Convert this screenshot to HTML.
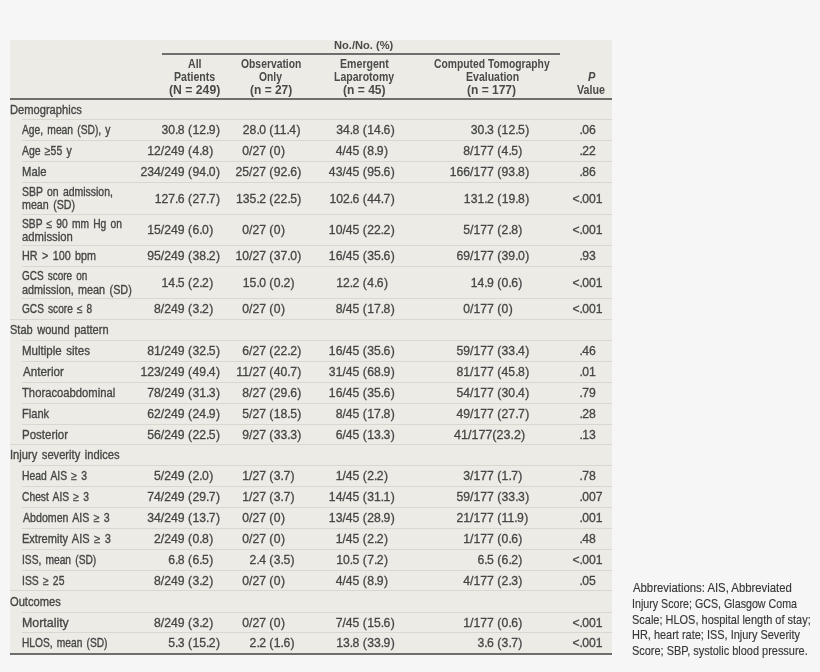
<!DOCTYPE html>
<html><head><meta charset="utf-8"><style>
html,body{margin:0;padding:0}
body{width:820px;height:672px;overflow:hidden;background:#f6f6f6;position:relative}
.tb{position:absolute;left:10px;top:40px;width:601.6px;height:615px;background:#ecebe5}
.clip{filter:blur(0.3px);position:absolute;left:0;top:40px;width:820px;height:632px;overflow:hidden}
.clip .in{position:absolute;left:0;top:-40px;width:820px;height:672px}
.t{position:absolute;white-space:nowrap;line-height:1;transform-origin:0 0;color:#464646}
.b{font:12.2px "Liberation Sans", sans-serif;line-height:1;-webkit-text-stroke:0.3px #464646}
.h{font:bold 12.5px "Liberation Sans", sans-serif;line-height:1;color:#4a4a4a}
.i{font-style:italic}
.s{font:bold 11.4px "Liberation Sans", sans-serif;line-height:1;color:#4a4a4a}
.a{font:12.2px "Liberation Sans",sans-serif;line-height:1;color:#383838;-webkit-text-stroke:0.15px #383838}
.rl{position:absolute;height:1px;background:#d9d7d0}
</style></head><body>
<div class="tb"></div>
<div class="clip"><div class="in">
<div class="rl" style="left:22.4px;top:118.90px;width:589.2px"></div>
<div class="rl" style="left:22.4px;top:140.00px;width:589.2px"></div>
<div class="rl" style="left:22.4px;top:161.00px;width:589.2px"></div>
<div class="rl" style="left:22.4px;top:181.80px;width:589.2px"></div>
<div class="rl" style="left:22.4px;top:213.60px;width:589.2px"></div>
<div class="rl" style="left:22.4px;top:245.30px;width:589.2px"></div>
<div class="rl" style="left:22.4px;top:266.40px;width:589.2px"></div>
<div class="rl" style="left:22.4px;top:298.30px;width:589.2px"></div>
<div class="rl" style="left:10px;top:319.10px;width:601.6px"></div>
<div class="rl" style="left:22.4px;top:340.00px;width:589.2px"></div>
<div class="rl" style="left:22.4px;top:360.90px;width:589.2px"></div>
<div class="rl" style="left:22.4px;top:381.70px;width:589.2px"></div>
<div class="rl" style="left:22.4px;top:402.70px;width:589.2px"></div>
<div class="rl" style="left:22.4px;top:423.60px;width:589.2px"></div>
<div class="rl" style="left:10px;top:444.30px;width:601.6px"></div>
<div class="rl" style="left:22.4px;top:465.00px;width:589.2px"></div>
<div class="rl" style="left:22.4px;top:485.90px;width:589.2px"></div>
<div class="rl" style="left:22.4px;top:506.80px;width:589.2px"></div>
<div class="rl" style="left:22.4px;top:527.70px;width:589.2px"></div>
<div class="rl" style="left:22.4px;top:548.70px;width:589.2px"></div>
<div class="rl" style="left:22.4px;top:569.70px;width:589.2px"></div>
<div class="rl" style="left:10px;top:590.40px;width:601.6px"></div>
<div class="rl" style="left:22.4px;top:611.50px;width:589.2px"></div>
<div class="rl" style="left:22.4px;top:632.10px;width:589.2px"></div>
<div style="position:absolute;left:162.3px;top:53.0px;width:398.09999999999997px;height:2.0px;background:#6e6e6e"></div>
<div style="position:absolute;left:10px;top:97.6px;width:601.6px;height:2.2px;background:#6e6e6e"></div>
<div style="position:absolute;left:10px;top:653.3px;width:601.6px;height:2.0px;background:#6e6e6e"></div>
<div class="t h s" style="left:334.07px;top:39.80px;transform:scaleX(0.9748);">No./No. (%)</div>
<div class="t h" style="left:187.69px;top:57.90px;transform:scaleX(0.8475);">All</div>
<div class="t h" style="left:173.57px;top:70.70px;transform:scaleX(0.8463);">Patients</div>
<div class="t h" style="left:168.81px;top:83.50px;transform:scaleX(0.9776);">(N = 249)</div>
<div class="t h" style="left:240.59px;top:57.90px;transform:scaleX(0.8279);">Observation</div>
<div class="t h" style="left:258.89px;top:70.70px;transform:scaleX(0.8257);">Only</div>
<div class="t h" style="left:249.62px;top:83.50px;transform:scaleX(0.9581);">(n = 27)</div>
<div class="t h" style="left:339.86px;top:57.90px;transform:scaleX(0.8476);">Emergent</div>
<div class="t h" style="left:333.97px;top:70.70px;transform:scaleX(0.8410);">Laparotomy</div>
<div class="t h" style="left:343.32px;top:83.50px;transform:scaleX(0.9651);">(n = 45)</div>
<div class="t h" style="left:434.19px;top:57.90px;transform:scaleX(0.8258);">Computed Tomography</div>
<div class="t h" style="left:465.67px;top:70.70px;transform:scaleX(0.8421);">Evaluation</div>
<div class="t h" style="left:467.12px;top:83.50px;transform:scaleX(0.9600);">(n = 177)</div>
<div class="t h" style="left:577.09px;top:83.50px;transform:scaleX(0.8531);">Value</div>
<div class="t h i" style="left:587.58px;top:70.70px;transform:scaleX(0.8848);">P</div>
<div class="t a" style="left:632.60px;top:582.30px;transform:scaleX(0.9306);">Abbreviations: AIS, Abbreviated</div>
<div class="t a" style="left:631.72px;top:598.00px;transform:scaleX(0.8764);">Injury Score; GCS, Glasgow Coma</div>
<div class="t a" style="left:632.15px;top:613.50px;transform:scaleX(0.9005);">Scale; HLOS, hospital length of stay;</div>
<div class="t a" style="left:631.70px;top:629.40px;transform:scaleX(0.8989);">HR, heart rate; ISS, Injury Severity</div>
<div class="t a" style="left:632.15px;top:644.90px;transform:scaleX(0.8985);">Score; SBP, systolic blood pressure.</div>
<div class="t b" style="left:9.64px;top:103.95px;transform:scaleX(0.9133);word-spacing:1.600px;-webkit-text-stroke-width:0.328px;">Demographics</div>
<div class="t b" style="left:22.40px;top:124.05px;transform:scaleX(0.8425);word-spacing:1.600px;-webkit-text-stroke-width:0.356px;">Age, mean (SD), y</div>
<div class="t b" style="left:161.44px;top:124.05px;">30<span style="margin-right:-0.6px">.</span>8 <span style="margin-right:0.4px">(</span>12<span style="margin-right:-0.6px">.</span>9<span style="margin-left:0.4px">)</span></div>
<div class="t b" style="left:242.84px;top:124.05px;">28<span style="margin-right:-0.6px">.</span>0 <span style="margin-right:0.4px">(</span>11<span style="margin-right:-0.6px">.</span>4<span style="margin-left:0.4px">)</span></div>
<div class="t b" style="left:336.24px;top:124.05px;">34<span style="margin-right:-0.6px">.</span>8 <span style="margin-right:0.4px">(</span>14<span style="margin-right:-0.6px">.</span>6<span style="margin-left:0.4px">)</span></div>
<div class="t b" style="left:470.64px;top:124.05px;">30<span style="margin-right:-0.6px">.</span>3 <span style="margin-right:0.4px">(</span>12<span style="margin-right:-0.6px">.</span>5<span style="margin-left:0.4px">)</span></div>
<div class="t b" style="left:579.50px;top:124.05px;"><span style="margin-right:-0.6px">.</span>06</div>
<div class="t b" style="left:22.40px;top:145.15px;transform:scaleX(0.8576);word-spacing:1.600px;-webkit-text-stroke-width:0.350px;">Age ≥55 y</div>
<div class="t b" style="left:147.28px;top:145.15px;">12/249 <span style="margin-right:0.4px">(</span>4<span style="margin-right:-0.6px">.</span>8<span style="margin-left:0.4px">)</span></div>
<div class="t b" style="left:242.24px;top:145.15px;">0/27 <span style="margin-right:0.4px">(</span>0<span style="margin-left:0.4px">)</span></div>
<div class="t b" style="left:335.64px;top:145.15px;">4/45 <span style="margin-right:0.4px">(</span>8<span style="margin-right:-0.6px">.</span>9<span style="margin-left:0.4px">)</span></div>
<div class="t b" style="left:463.26px;top:145.15px;">8/177 <span style="margin-right:0.4px">(</span>4<span style="margin-right:-0.6px">.</span>5<span style="margin-left:0.4px">)</span></div>
<div class="t b" style="left:579.50px;top:145.15px;"><span style="margin-right:-0.6px">.</span>22</div>
<div class="t b" style="left:21.82px;top:166.15px;transform:scaleX(0.9260);word-spacing:1.600px;-webkit-text-stroke-width:0.324px;">Male</div>
<div class="t b" style="left:140.50px;top:166.15px;">234/249 <span style="margin-right:0.4px">(</span>94<span style="margin-right:-0.6px">.</span>0<span style="margin-left:0.4px">)</span></div>
<div class="t b" style="left:235.46px;top:166.15px;">25/27 <span style="margin-right:0.4px">(</span>92<span style="margin-right:-0.6px">.</span>6<span style="margin-left:0.4px">)</span></div>
<div class="t b" style="left:328.86px;top:166.15px;">43/45 <span style="margin-right:0.4px">(</span>95<span style="margin-right:-0.6px">.</span>6<span style="margin-left:0.4px">)</span></div>
<div class="t b" style="left:449.70px;top:166.15px;">166/177 <span style="margin-right:0.4px">(</span>93<span style="margin-right:-0.6px">.</span>8<span style="margin-left:0.4px">)</span></div>
<div class="t b" style="left:579.50px;top:166.15px;"><span style="margin-right:-0.6px">.</span>86</div>
<div class="t b" style="left:21.97px;top:185.80px;transform:scaleX(0.8578);word-spacing:1.600px;-webkit-text-stroke-width:0.350px;">SBP on admission,</div>
<div class="t b" style="left:21.74px;top:198.90px;transform:scaleX(0.8782);word-spacing:1.600px;-webkit-text-stroke-width:0.342px;">mean (SD)</div>
<div class="t b" style="left:154.66px;top:192.50px;">127<span style="margin-right:-0.6px">.</span>6 <span style="margin-right:0.4px">(</span>27<span style="margin-right:-0.6px">.</span>7<span style="margin-left:0.4px">)</span></div>
<div class="t b" style="left:236.06px;top:192.50px;">135<span style="margin-right:-0.6px">.</span>2 <span style="margin-right:0.4px">(</span>22<span style="margin-right:-0.6px">.</span>5<span style="margin-left:0.4px">)</span></div>
<div class="t b" style="left:329.46px;top:192.50px;">102<span style="margin-right:-0.6px">.</span>6 <span style="margin-right:0.4px">(</span>44<span style="margin-right:-0.6px">.</span>7<span style="margin-left:0.4px">)</span></div>
<div class="t b" style="left:463.86px;top:192.50px;">131<span style="margin-right:-0.6px">.</span>2 <span style="margin-right:0.4px">(</span>19<span style="margin-right:-0.6px">.</span>8<span style="margin-left:0.4px">)</span></div>
<div class="t b" style="left:572.38px;top:192.50px;">&lt;<span style="margin-right:-0.6px">.</span>001</div>
<div class="t b" style="left:21.98px;top:217.60px;transform:scaleX(0.8409);word-spacing:1.600px;-webkit-text-stroke-width:0.357px;">SBP ≤ 90 mm Hg on</div>
<div class="t b" style="left:21.94px;top:230.70px;transform:scaleX(0.9252);word-spacing:1.600px;-webkit-text-stroke-width:0.324px;">admission</div>
<div class="t b" style="left:147.28px;top:224.30px;">15/249 <span style="margin-right:0.4px">(</span>6<span style="margin-right:-0.6px">.</span>0<span style="margin-left:0.4px">)</span></div>
<div class="t b" style="left:242.24px;top:224.30px;">0/27 <span style="margin-right:0.4px">(</span>0<span style="margin-left:0.4px">)</span></div>
<div class="t b" style="left:328.86px;top:224.30px;">10/45 <span style="margin-right:0.4px">(</span>22<span style="margin-right:-0.6px">.</span>2<span style="margin-left:0.4px">)</span></div>
<div class="t b" style="left:463.26px;top:224.30px;">5/177 <span style="margin-right:0.4px">(</span>2<span style="margin-right:-0.6px">.</span>8<span style="margin-left:0.4px">)</span></div>
<div class="t b" style="left:572.38px;top:224.30px;">&lt;<span style="margin-right:-0.6px">.</span>001</div>
<div class="t b" style="left:21.52px;top:250.45px;transform:scaleX(0.8848);word-spacing:1.600px;-webkit-text-stroke-width:0.339px;">HR &gt; 100 bpm</div>
<div class="t b" style="left:147.28px;top:250.45px;">95/249 <span style="margin-right:0.4px">(</span>38<span style="margin-right:-0.6px">.</span>2<span style="margin-left:0.4px">)</span></div>
<div class="t b" style="left:235.46px;top:250.45px;">10/27 <span style="margin-right:0.4px">(</span>37<span style="margin-right:-0.6px">.</span>0<span style="margin-left:0.4px">)</span></div>
<div class="t b" style="left:328.86px;top:250.45px;">16/45 <span style="margin-right:0.4px">(</span>35<span style="margin-right:-0.6px">.</span>6<span style="margin-left:0.4px">)</span></div>
<div class="t b" style="left:456.48px;top:250.45px;">69/177 <span style="margin-right:0.4px">(</span>39<span style="margin-right:-0.6px">.</span>0<span style="margin-left:0.4px">)</span></div>
<div class="t b" style="left:579.50px;top:250.45px;"><span style="margin-right:-0.6px">.</span>93</div>
<div class="t b" style="left:21.99px;top:270.40px;transform:scaleX(0.8184);word-spacing:1.600px;-webkit-text-stroke-width:0.367px;">GCS score on</div>
<div class="t b" style="left:21.96px;top:283.50px;transform:scaleX(0.8869);word-spacing:1.600px;-webkit-text-stroke-width:0.338px;">admission, mean (SD)</div>
<div class="t b" style="left:161.44px;top:277.10px;">14<span style="margin-right:-0.6px">.</span>5 <span style="margin-right:0.4px">(</span>2<span style="margin-right:-0.6px">.</span>2<span style="margin-left:0.4px">)</span></div>
<div class="t b" style="left:242.84px;top:277.10px;">15<span style="margin-right:-0.6px">.</span>0 <span style="margin-right:0.4px">(</span>0<span style="margin-right:-0.6px">.</span>2<span style="margin-left:0.4px">)</span></div>
<div class="t b" style="left:336.24px;top:277.10px;">12<span style="margin-right:-0.6px">.</span>2 <span style="margin-right:0.4px">(</span>4<span style="margin-right:-0.6px">.</span>6<span style="margin-left:0.4px">)</span></div>
<div class="t b" style="left:470.64px;top:277.10px;">14<span style="margin-right:-0.6px">.</span>9 <span style="margin-right:0.4px">(</span>0<span style="margin-right:-0.6px">.</span>6<span style="margin-left:0.4px">)</span></div>
<div class="t b" style="left:572.38px;top:277.10px;">&lt;<span style="margin-right:-0.6px">.</span>001</div>
<div class="t b" style="left:21.99px;top:303.45px;transform:scaleX(0.8294);word-spacing:1.600px;-webkit-text-stroke-width:0.362px;">GCS score ≤ 8</div>
<div class="t b" style="left:154.06px;top:303.45px;">8/249 <span style="margin-right:0.4px">(</span>3<span style="margin-right:-0.6px">.</span>2<span style="margin-left:0.4px">)</span></div>
<div class="t b" style="left:242.24px;top:303.45px;">0/27 <span style="margin-right:0.4px">(</span>0<span style="margin-left:0.4px">)</span></div>
<div class="t b" style="left:335.64px;top:303.45px;">8/45 <span style="margin-right:0.4px">(</span>17<span style="margin-right:-0.6px">.</span>8<span style="margin-left:0.4px">)</span></div>
<div class="t b" style="left:463.26px;top:303.45px;">0/177 <span style="margin-right:0.4px">(</span>0<span style="margin-left:0.4px">)</span></div>
<div class="t b" style="left:572.38px;top:303.45px;">&lt;<span style="margin-right:-0.6px">.</span>001</div>
<div class="t b" style="left:10.10px;top:324.25px;transform:scaleX(0.9048);word-spacing:1.600px;-webkit-text-stroke-width:0.332px;">Stab wound pattern</div>
<div class="t b" style="left:21.76px;top:345.15px;transform:scaleX(0.9433);word-spacing:1.600px;-webkit-text-stroke-width:0.318px;">Multiple sites</div>
<div class="t b" style="left:147.28px;top:345.15px;">81/249 <span style="margin-right:0.4px">(</span>32<span style="margin-right:-0.6px">.</span>5<span style="margin-left:0.4px">)</span></div>
<div class="t b" style="left:242.24px;top:345.15px;">6/27 <span style="margin-right:0.4px">(</span>22<span style="margin-right:-0.6px">.</span>2<span style="margin-left:0.4px">)</span></div>
<div class="t b" style="left:328.86px;top:345.15px;">16/45 <span style="margin-right:0.4px">(</span>35<span style="margin-right:-0.6px">.</span>6<span style="margin-left:0.4px">)</span></div>
<div class="t b" style="left:456.48px;top:345.15px;">59/177 <span style="margin-right:0.4px">(</span>33<span style="margin-right:-0.6px">.</span>4<span style="margin-left:0.4px">)</span></div>
<div class="t b" style="left:579.50px;top:345.15px;"><span style="margin-right:-0.6px">.</span>46</div>
<div class="t b" style="left:22.70px;top:366.05px;transform:scaleX(0.9576);word-spacing:1.600px;-webkit-text-stroke-width:0.313px;">Anterior</div>
<div class="t b" style="left:140.50px;top:366.05px;">123/249 <span style="margin-right:0.4px">(</span>49<span style="margin-right:-0.6px">.</span>4<span style="margin-left:0.4px">)</span></div>
<div class="t b" style="left:236.37px;top:366.05px;">11/27 <span style="margin-right:0.4px">(</span>40<span style="margin-right:-0.6px">.</span>7<span style="margin-left:0.4px">)</span></div>
<div class="t b" style="left:328.86px;top:366.05px;">31/45 <span style="margin-right:0.4px">(</span>68<span style="margin-right:-0.6px">.</span>9<span style="margin-left:0.4px">)</span></div>
<div class="t b" style="left:456.48px;top:366.05px;">81/177 <span style="margin-right:0.4px">(</span>45<span style="margin-right:-0.6px">.</span>8<span style="margin-left:0.4px">)</span></div>
<div class="t b" style="left:579.50px;top:366.05px;"><span style="margin-right:-0.6px">.</span>01</div>
<div class="t b" style="left:22.47px;top:386.85px;transform:scaleX(0.9230);word-spacing:1.600px;-webkit-text-stroke-width:0.325px;">Thoracoabdominal</div>
<div class="t b" style="left:147.28px;top:386.85px;">78/249 <span style="margin-right:0.4px">(</span>31<span style="margin-right:-0.6px">.</span>3<span style="margin-left:0.4px">)</span></div>
<div class="t b" style="left:242.24px;top:386.85px;">8/27 <span style="margin-right:0.4px">(</span>29<span style="margin-right:-0.6px">.</span>6<span style="margin-left:0.4px">)</span></div>
<div class="t b" style="left:328.86px;top:386.85px;">16/45 <span style="margin-right:0.4px">(</span>35<span style="margin-right:-0.6px">.</span>6<span style="margin-left:0.4px">)</span></div>
<div class="t b" style="left:456.48px;top:386.85px;">54/177 <span style="margin-right:0.4px">(</span>30<span style="margin-right:-0.6px">.</span>4<span style="margin-left:0.4px">)</span></div>
<div class="t b" style="left:579.50px;top:386.85px;"><span style="margin-right:-0.6px">.</span>79</div>
<div class="t b" style="left:21.79px;top:407.85px;transform:scaleX(0.9113);word-spacing:1.600px;-webkit-text-stroke-width:0.329px;">Flank</div>
<div class="t b" style="left:147.28px;top:407.85px;">62/249 <span style="margin-right:0.4px">(</span>24<span style="margin-right:-0.6px">.</span>9<span style="margin-left:0.4px">)</span></div>
<div class="t b" style="left:242.24px;top:407.85px;">5/27 <span style="margin-right:0.4px">(</span>18<span style="margin-right:-0.6px">.</span>5<span style="margin-left:0.4px">)</span></div>
<div class="t b" style="left:335.64px;top:407.85px;">8/45 <span style="margin-right:0.4px">(</span>17<span style="margin-right:-0.6px">.</span>8<span style="margin-left:0.4px">)</span></div>
<div class="t b" style="left:456.48px;top:407.85px;">49/177 <span style="margin-right:0.4px">(</span>27<span style="margin-right:-0.6px">.</span>7<span style="margin-left:0.4px">)</span></div>
<div class="t b" style="left:579.50px;top:407.85px;"><span style="margin-right:-0.6px">.</span>28</div>
<div class="t b" style="left:21.76px;top:428.75px;transform:scaleX(0.9432);word-spacing:1.600px;-webkit-text-stroke-width:0.318px;">Posterior</div>
<div class="t b" style="left:147.28px;top:428.75px;">56/249 <span style="margin-right:0.4px">(</span>22<span style="margin-right:-0.6px">.</span>5<span style="margin-left:0.4px">)</span></div>
<div class="t b" style="left:242.24px;top:428.75px;">9/27 <span style="margin-right:0.4px">(</span>33<span style="margin-right:-0.6px">.</span>3<span style="margin-left:0.4px">)</span></div>
<div class="t b" style="left:335.64px;top:428.75px;">6/45 <span style="margin-right:0.4px">(</span>13<span style="margin-right:-0.6px">.</span>3<span style="margin-left:0.4px">)</span></div>
<div class="t b" style="left:454.34px;top:428.75px;transform:scaleX(1.0286);">41/177(23.2)</div>
<div class="t b" style="left:579.50px;top:428.75px;"><span style="margin-right:-0.6px">.</span>13</div>
<div class="t b" style="left:9.79px;top:449.45px;transform:scaleX(0.9146);word-spacing:1.600px;-webkit-text-stroke-width:0.328px;">Injury severity indices</div>
<div class="t b" style="left:21.85px;top:470.15px;transform:scaleX(0.8488);word-spacing:1.600px;-webkit-text-stroke-width:0.353px;">Head AIS ≥ 3</div>
<div class="t b" style="left:154.06px;top:470.15px;">5/249 <span style="margin-right:0.4px">(</span>2<span style="margin-right:-0.6px">.</span>0<span style="margin-left:0.4px">)</span></div>
<div class="t b" style="left:242.24px;top:470.15px;">1/27 <span style="margin-right:0.4px">(</span>3<span style="margin-right:-0.6px">.</span>7<span style="margin-left:0.4px">)</span></div>
<div class="t b" style="left:335.64px;top:470.15px;">1/45 <span style="margin-right:0.4px">(</span>2<span style="margin-right:-0.6px">.</span>2<span style="margin-left:0.4px">)</span></div>
<div class="t b" style="left:463.26px;top:470.15px;">3/177 <span style="margin-right:0.4px">(</span>1<span style="margin-right:-0.6px">.</span>7<span style="margin-left:0.4px">)</span></div>
<div class="t b" style="left:579.50px;top:470.15px;"><span style="margin-right:-0.6px">.</span>78</div>
<div class="t b" style="left:22.28px;top:491.05px;transform:scaleX(0.8442);word-spacing:1.600px;-webkit-text-stroke-width:0.355px;">Chest AIS ≥ 3</div>
<div class="t b" style="left:147.28px;top:491.05px;">74/249 <span style="margin-right:0.4px">(</span>29<span style="margin-right:-0.6px">.</span>7<span style="margin-left:0.4px">)</span></div>
<div class="t b" style="left:242.24px;top:491.05px;">1/27 <span style="margin-right:0.4px">(</span>3<span style="margin-right:-0.6px">.</span>7<span style="margin-left:0.4px">)</span></div>
<div class="t b" style="left:328.86px;top:491.05px;">14/45 <span style="margin-right:0.4px">(</span>31<span style="margin-right:-0.6px">.</span>1<span style="margin-left:0.4px">)</span></div>
<div class="t b" style="left:456.48px;top:491.05px;">59/177 <span style="margin-right:0.4px">(</span>33<span style="margin-right:-0.6px">.</span>3<span style="margin-left:0.4px">)</span></div>
<div class="t b" style="left:579.50px;top:491.05px;"><span style="margin-right:-0.6px">.</span>007</div>
<div class="t b" style="left:22.70px;top:511.95px;transform:scaleX(0.8713);word-spacing:1.600px;-webkit-text-stroke-width:0.344px;">Abdomen AIS ≥ 3</div>
<div class="t b" style="left:147.28px;top:511.95px;">34/249 <span style="margin-right:0.4px">(</span>13<span style="margin-right:-0.6px">.</span>7<span style="margin-left:0.4px">)</span></div>
<div class="t b" style="left:242.24px;top:511.95px;">0/27 <span style="margin-right:0.4px">(</span>0<span style="margin-left:0.4px">)</span></div>
<div class="t b" style="left:328.86px;top:511.95px;">13/45 <span style="margin-right:0.4px">(</span>28<span style="margin-right:-0.6px">.</span>9<span style="margin-left:0.4px">)</span></div>
<div class="t b" style="left:456.48px;top:511.95px;">21/177 <span style="margin-right:0.4px">(</span>11<span style="margin-right:-0.6px">.</span>9<span style="margin-left:0.4px">)</span></div>
<div class="t b" style="left:579.50px;top:511.95px;"><span style="margin-right:-0.6px">.</span>001</div>
<div class="t b" style="left:21.80px;top:532.85px;transform:scaleX(0.9050);word-spacing:1.600px;-webkit-text-stroke-width:0.332px;">Extremity AIS ≥ 3</div>
<div class="t b" style="left:154.06px;top:532.85px;">2/249 <span style="margin-right:0.4px">(</span>0<span style="margin-right:-0.6px">.</span>8<span style="margin-left:0.4px">)</span></div>
<div class="t b" style="left:242.24px;top:532.85px;">0/27 <span style="margin-right:0.4px">(</span>0<span style="margin-left:0.4px">)</span></div>
<div class="t b" style="left:335.64px;top:532.85px;">1/45 <span style="margin-right:0.4px">(</span>2<span style="margin-right:-0.6px">.</span>2<span style="margin-left:0.4px">)</span></div>
<div class="t b" style="left:463.26px;top:532.85px;">1/177 <span style="margin-right:0.4px">(</span>0<span style="margin-right:-0.6px">.</span>6<span style="margin-left:0.4px">)</span></div>
<div class="t b" style="left:579.50px;top:532.85px;"><span style="margin-right:-0.6px">.</span>48</div>
<div class="t b" style="left:21.86px;top:553.85px;transform:scaleX(0.8385);word-spacing:1.600px;-webkit-text-stroke-width:0.358px;">ISS, mean (SD)</div>
<div class="t b" style="left:168.21px;top:553.85px;">6<span style="margin-right:-0.6px">.</span>8 <span style="margin-right:0.4px">(</span>6<span style="margin-right:-0.6px">.</span>5<span style="margin-left:0.4px">)</span></div>
<div class="t b" style="left:249.61px;top:553.85px;">2<span style="margin-right:-0.6px">.</span>4 <span style="margin-right:0.4px">(</span>3<span style="margin-right:-0.6px">.</span>5<span style="margin-left:0.4px">)</span></div>
<div class="t b" style="left:336.24px;top:553.85px;">10<span style="margin-right:-0.6px">.</span>5 <span style="margin-right:0.4px">(</span>7<span style="margin-right:-0.6px">.</span>2<span style="margin-left:0.4px">)</span></div>
<div class="t b" style="left:477.41px;top:553.85px;">6<span style="margin-right:-0.6px">.</span>5 <span style="margin-right:0.4px">(</span>6<span style="margin-right:-0.6px">.</span>2<span style="margin-left:0.4px">)</span></div>
<div class="t b" style="left:572.38px;top:553.85px;">&lt;<span style="margin-right:-0.6px">.</span>001</div>
<div class="t b" style="left:21.85px;top:574.85px;transform:scaleX(0.8504);word-spacing:1.600px;-webkit-text-stroke-width:0.353px;">ISS ≥ 25</div>
<div class="t b" style="left:154.06px;top:574.85px;">8/249 <span style="margin-right:0.4px">(</span>3<span style="margin-right:-0.6px">.</span>2<span style="margin-left:0.4px">)</span></div>
<div class="t b" style="left:242.24px;top:574.85px;">0/27 <span style="margin-right:0.4px">(</span>0<span style="margin-left:0.4px">)</span></div>
<div class="t b" style="left:335.64px;top:574.85px;">4/45 <span style="margin-right:0.4px">(</span>8<span style="margin-right:-0.6px">.</span>9<span style="margin-left:0.4px">)</span></div>
<div class="t b" style="left:463.26px;top:574.85px;">4/177 <span style="margin-right:0.4px">(</span>2<span style="margin-right:-0.6px">.</span>3<span style="margin-left:0.4px">)</span></div>
<div class="t b" style="left:579.50px;top:574.85px;"><span style="margin-right:-0.6px">.</span>05</div>
<div class="t b" style="left:9.94px;top:595.55px;transform:scaleX(0.9138);word-spacing:1.600px;-webkit-text-stroke-width:0.328px;">Outcomes</div>
<div class="t b" style="left:21.68px;top:616.65px;transform:scaleX(1.0156);word-spacing:1.600px;-webkit-text-stroke-width:0.295px;">Mortality</div>
<div class="t b" style="left:154.06px;top:616.65px;">8/249 <span style="margin-right:0.4px">(</span>3<span style="margin-right:-0.6px">.</span>2<span style="margin-left:0.4px">)</span></div>
<div class="t b" style="left:242.24px;top:616.65px;">0/27 <span style="margin-right:0.4px">(</span>0<span style="margin-left:0.4px">)</span></div>
<div class="t b" style="left:335.64px;top:616.65px;">7/45 <span style="margin-right:0.4px">(</span>15<span style="margin-right:-0.6px">.</span>6<span style="margin-left:0.4px">)</span></div>
<div class="t b" style="left:463.26px;top:616.65px;">1/177 <span style="margin-right:0.4px">(</span>0<span style="margin-right:-0.6px">.</span>6<span style="margin-left:0.4px">)</span></div>
<div class="t b" style="left:572.38px;top:616.65px;">&lt;<span style="margin-right:-0.6px">.</span>001</div>
<div class="t b" style="left:21.86px;top:637.25px;transform:scaleX(0.8372);word-spacing:1.600px;-webkit-text-stroke-width:0.358px;">HLOS, mean (SD)</div>
<div class="t b" style="left:168.21px;top:637.25px;">5<span style="margin-right:-0.6px">.</span>3 <span style="margin-right:0.4px">(</span>15<span style="margin-right:-0.6px">.</span>2<span style="margin-left:0.4px">)</span></div>
<div class="t b" style="left:249.61px;top:637.25px;">2<span style="margin-right:-0.6px">.</span>2 <span style="margin-right:0.4px">(</span>1<span style="margin-right:-0.6px">.</span>6<span style="margin-left:0.4px">)</span></div>
<div class="t b" style="left:336.24px;top:637.25px;">13<span style="margin-right:-0.6px">.</span>8 <span style="margin-right:0.4px">(</span>33<span style="margin-right:-0.6px">.</span>9<span style="margin-left:0.4px">)</span></div>
<div class="t b" style="left:477.41px;top:637.25px;">3<span style="margin-right:-0.6px">.</span>6 <span style="margin-right:0.4px">(</span>3<span style="margin-right:-0.6px">.</span>7<span style="margin-left:0.4px">)</span></div>
<div class="t b" style="left:572.38px;top:637.25px;">&lt;<span style="margin-right:-0.6px">.</span>001</div>
</div></div>
</body></html>
